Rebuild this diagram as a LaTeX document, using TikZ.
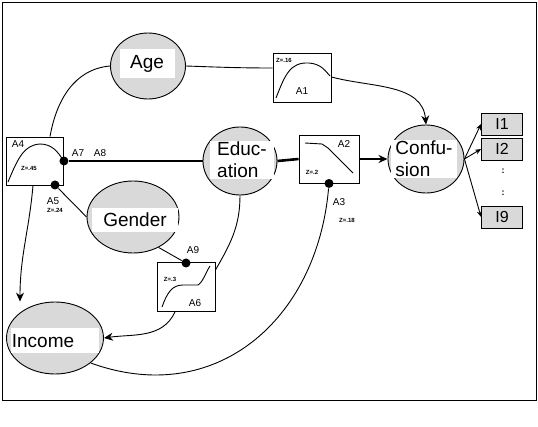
\documentclass[tikz,border=0pt]{standalone}
\usepackage{fontspec}
\setmainfont{Liberation Sans}
\usetikzlibrary{arrows.meta,shapes.geometric}
\tikzset{>/.tip={Stealth[length=9pt,width=8pt]}}

\begin{document}
\begin{tikzpicture}[x=1pt,y=-1pt,line width=0.9pt,
  factor/.style={ellipse,draw,fill=black!15,inner sep=0pt},
  ftext/.style={fill=white,inner sep=2pt,font=\fontsize{19}{22}\selectfont,align=left},
  fbox/.style={draw,fill=white,minimum width=58pt,minimum height=49pt,inner sep=0pt},
  item/.style={draw,fill=black!15,minimum width=41pt,minimum height=22pt,inner sep=0pt,font=\fontsize{16}{16}\selectfont},
  joint/.style={circle,fill=black,inner sep=0pt,minimum size=9pt},
  alab/.style={font=\fontsize{10}{10}\selectfont,inner sep=0pt},
  zlab/.style={font=\bfseries\fontsize{6}{6}\selectfont,inner sep=0pt}]
\useasboundingbox (0,0) rectangle (538,427);
\draw (2,2) rectangle (536,400);

\node[factor,minimum width=75pt,minimum height=66pt] (age) at (148,66) {};
\node[ftext,minimum width=55pt,minimum height=29pt] (age-t) at (147,64) {Age};
\node[factor,minimum width=74pt,minimum height=68pt] (educ) at (240,161) {};
\node[ftext,inner sep=1pt,minimum width=64pt] (educ-t) at (242,160) {Educ-\\ation};
\node[factor,minimum width=92pt,minimum height=72pt] (gender) at (133,217) {};
\node[ftext,minimum width=86pt,minimum height=24pt] (gender-t) at (135,220) {Gender};
\node[factor,minimum width=97pt,minimum height=72pt] (income) at (55,338) {};
\node[ftext,minimum width=88pt,minimum height=25pt] (income-t) at (55,341) {\hspace*{-24pt}Income};
\node[factor,minimum width=76pt,minimum height=68pt] (conf) at (426,159) {};
\node[ftext,inner sep=1pt,minimum width=66pt] (conf-t) at (424,159) {Confu-\\sion};

\node[fbox] (a1) at (302,78) {};
\node[fbox,minimum width=60pt,minimum height=48pt] (a2) at (329,159) {};
\node[fbox,minimum width=57pt,minimum height=48pt] (a4) at (35,161) {};
\node[fbox] (a6) at (186,287) {};

\node[item] (i1) at (502,124) {I1};
\node[item] (i2) at (502,149) {I2};
\node[item] (i9) at (502,217) {I9};
\node[font=\bfseries\fontsize{9}{9}\selectfont] (dots1) at (503,171) {:};
\node[font=\bfseries\fontsize{9}{9}\selectfont] (dots2) at (503,193) {:};

% curves in the boxes
\draw (276,98) .. controls (285,75) and (290,62) .. (309,63) .. controls (322,64) and (326,72) .. (330,76);
\draw (305,143) -- (322,144) -- (328,148) -- (353,173);
\draw (8,182) .. controls (18,158) and (24,145) .. (40,144) .. controls (52,144) and (58,152) .. (63,160);
\draw (162,307) .. controls (167,293) and (172,285) .. (183,285) -- (198,285) .. controls (203,282) and (206,272) .. (210,266);

\node[alab] (a1-l) at (302,91) {A1};
\node[zlab] (a1-z) at (284,60) {Z=.16};
\node[alab] (a2-l) at (344,144) {A2};
\node[zlab] (a2-z) at (312,172) {Z=.2};
\node[alab] (a4-l) at (18,144) {A4};
\node[zlab] (a4-z) at (29,168) {Z=.45};
\node[alab] (a6-l) at (195,303) {A6};
\node[zlab] (a6-z) at (170,279) {Z=.3};

\node[joint] (a7) at (a4.east) {};
\node[joint] (a5) at (55,185) {};
\node[joint] (a9) at (186,263) {};
\node[joint] (a3) at (a2.south) {};
\node[alab] (a7-l) at (78,153) {A7};
\node[alab] (a8-l) at (100,153) {A8};
\node[alab] (a5-l) at (53,201) {A5};
\node[zlab] (a5-z) at (55,210) {Z=.24};
\node[alab] (a9-l) at (193,250) {A9};
\node[alab] (a3-l) at (339,202) {A3};
\node[zlab] (a3-z) at (347,220) {Z=.18};

\draw (age.west) to[out=185,in=80] ([xshift=15pt]a4.north);
\draw (age.east) to[out=-2,in=180] ([yshift=10pt]a1.west);
\draw[->] ([yshift=1pt]a1.east) to[out=-15,in=95] (conf.north);
\draw[line width=1.6pt] (a7) -- (educ.west);
\draw[line width=2.6pt] (educ.east) -- (a2.west);
\draw[line width=2.6pt,->] (a2.east) -- (conf.west);
\draw[-{Stealth[length=6pt,width=5pt]}] (conf.east) -- (i1.west);
\draw[-{Stealth[length=6pt,width=5pt]}] (conf.east) -- (i2.west);
\draw[-{Stealth[length=6pt,width=5pt]}] (conf.east) -- (i9.west);
\draw (a5) -- (gender.west);
\draw (gender.-50) -- (a9);
\draw (educ.south) to[out=-90,in=60] ([yshift=17pt]a6.east);
\draw[->] ([xshift=-11pt]a6.south) to[out=-115,in=8] (income.east);
\draw[->] ([xshift=-2pt]a4.south) to[out=-95,in=90] ([xshift=-35pt]income.north);
\draw (income.-35) to[out=-20,in=-95,looseness=1.15] (a3);
\end{tikzpicture}
\end{document}
